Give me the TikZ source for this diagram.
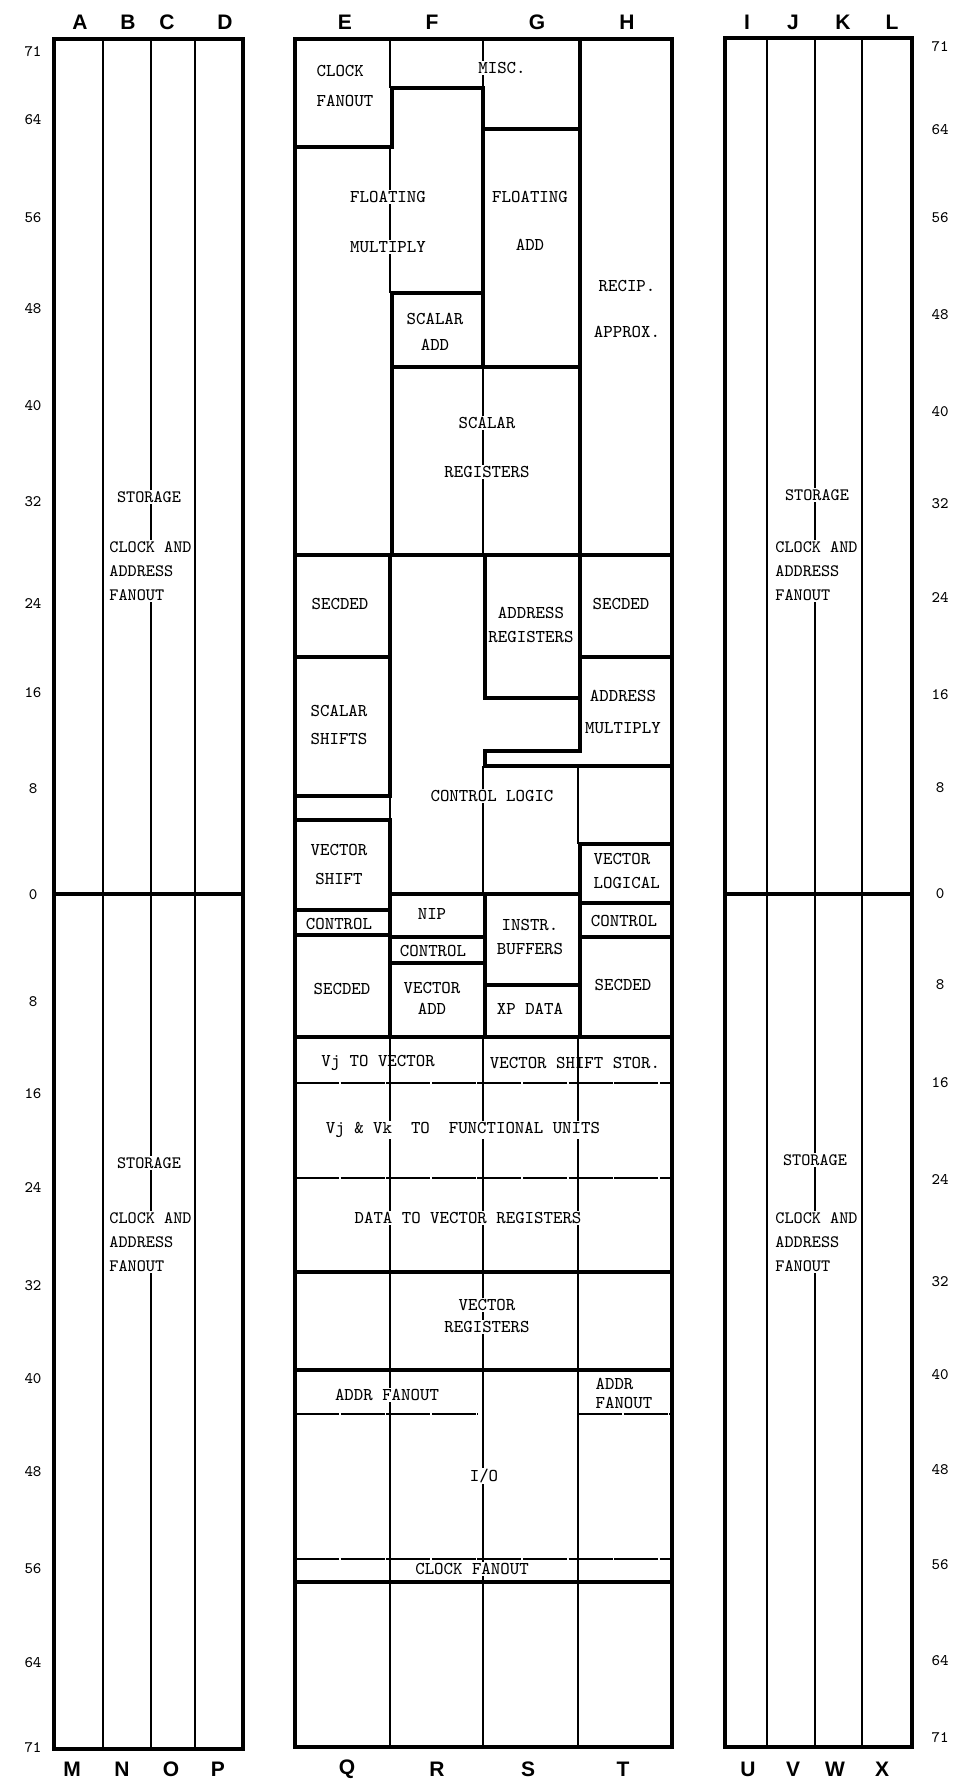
\documentclass[tikz,border=0pt]{standalone}
\usepackage{fontspec}
\newfontfamily\hdrfont{Liberation Sans}
\newcommand\lblfont{\ttfamily\fontsize{9}{12}\selectfont}
\tikzset{
  wall/.style   ={line width=2.3pt, line cap=rect, line join=miter},
  gridln/.style ={line width=0.55pt},
  gridd/.style  ={gridln, dash pattern=on 22pt off 0.8pt},
  lbl/.style    ={font=\lblfont, align=center, fill=white, inner sep=0.6pt},
  lblo/.style   ={lbl, fill=none},
  lblw/.style   ={lbl, align=left, anchor=west},
  stor/.style   ={lbl, font=\ttfamily\fontsize{8.7}{12}\selectfont, inner xsep=0pt},
  storw/.style  ={stor, align=left, anchor=west},
  hdr/.style    ={font=\hdrfont\bfseries\fontsize{10.5}{12}\selectfont, inner sep=0pt},
  rownum/.style ={font=\ttfamily\fontsize{8}{10}\selectfont, inner sep=0pt},
}

\begin{document}
\begin{tikzpicture}[x=0.5pt, y=-0.5pt]
\useasboundingbox (0,0) rectangle (959,1784);

% ---- thin column lines ----
\foreach \x in {103,151,195} \draw[gridln] (\x,39) -- (\x,1749);
\foreach \x in {767,815,862} \draw[gridln] (\x,38) -- (\x,1747);
\draw[gridln] (390,39) -- (390,88);
\draw[gridln] (483,39) -- (483,88);
\draw[gridln] (390,147) -- (390,293);
\draw[gridln] (483,367) -- (483,555);
\draw[gridln] (390,796) -- (390,820);
\draw[gridln] (483,766) -- (483,894);
\draw[gridln] (578,766) -- (578,844);
\foreach \x in {390,483,578} \draw[gridln] (\x,1037) -- (\x,1747);
\draw[gridd] (295,1083) -- (672,1083);
\draw[gridd] (295,1178) -- (672,1178);
\draw[gridd] (295,1414) -- (478,1414);
\draw[gridd] (578,1414) -- (672,1414);
\draw[gridd] (295,1559) -- (672,1559);

% ---- storage labels ----
\node[stor]  (stoA) at (149,497) {STORAGE};
\node[storw] (fanA) at (109,571) {CLOCK AND\\ADDRESS\\FANOUT};
\node[stor]  (stoM) at (149,1163) {STORAGE};
\node[storw] (fanM) at (109,1242) {CLOCK AND\\ADDRESS\\FANOUT};
\node[stor]  (stoI) at (817,495) {STORAGE};
\node[storw] (fanI) at (775,571) {CLOCK AND\\ADDRESS\\FANOUT};
\node[stor]  (stoU) at (815,1160) {STORAGE};
\node[storw] (fanU) at (775,1242) {CLOCK AND\\ADDRESS\\FANOUT};

% ---- cpu labels ----
\node[lblw] (clkfan) at (315,86) {CLOCK\\[3pt]FANOUT};
\node[lbl] (misc)   at (502,68) {MISC.};
\node[lbl] (fmulA)  at (388,197) {FLOATING};
\node[lbl] (fmulB)  at (388,247) {MULTIPLY};
\node[lbl] (fadd)   at (530,221) {FLOATING\\[12pt]ADD};
\node[lbl] (sadd)   at (435,332) {SCALAR\\[1pt]ADD};
\node[lbl] (recip)  at (627,309) {RECIP.\\[11pt]APPROX.};
\node[lbl] (sregA)  at (487,423) {SCALAR};
\node[lbl] (sregB)  at (487,472) {REGISTERS};
\node[lbl] (secE)   at (340,604) {SECDED};
\node[lbl] (areg)   at (531,625) {ADDRESS\\REGISTERS};
\node[lbl] (secH)   at (621,604) {SECDED};
\node[lbl] (sshift) at (339,725) {SCALAR\\[2pt]SHIFTS};
\node[lbl] (amul)   at (623,712) {ADDRESS\\[4pt]MULTIPLY};
\node[lbl] (ctlog)  at (492,796) {CONTROL LOGIC};
\node[lbl] (vshift) at (339,864) {VECTOR\\[2.5pt]SHIFT};
\node[lblw] (vlog)  at (592,871) {VECTOR\\LOGICAL};
\node[lbl] (ctlE)   at (339,924) {CONTROL};
\node[lbl] (nip)    at (432,914) {NIP};
\node[lbl] (ibuf)   at (530,937) {INSTR.\\BUFFERS};
\node[lbl] (ctlH)   at (624,921) {CONTROL};
\node[lbl] (ctlF)   at (433,951) {CONTROL};
\node[lbl] (secQ)   at (342,989) {SECDED};
\node[lbl] (vadd)   at (432,998) {VECTOR\\[-1.5pt]ADD};
\node[lbl] (xpd)    at (530,1009) {XP DATA};
\node[lbl] (secT)   at (623,985) {SECDED};
\node[lblo] (vjvec) at (378,1063) {Vj TO VECTOR};
\node[lblo] (vsst)  at (575,1063) {VECTOR SHIFT STOR.};
\node[lbl] (vjvk)   at (463,1130) {Vj \& Vk\ \ TO\ \ FUNCTIONAL UNITS};
\node[lbl] (dvreg)  at (468,1218) {DATA TO VECTOR REGISTERS};
\node[lbl] (vregA)  at (487,1305) {VECTOR};
\node[lbl] (vregB)  at (487,1327) {REGISTERS};
\node[lbl] (afanQ)  at (387,1395) {ADDR FANOUT};
\node[lblw] (afanT) at (594,1393) {ADDR\\[-2.5pt]FANOUT};
\node[lbl] (io)     at (484,1476) {I/O};
\node[lbl] (clkfanS) at (472,1569) {CLOCK FANOUT};

% ---- panel outlines ----
\draw[wall] (54,39) rectangle (243,1749);
\draw[wall] (54,894) -- (243,894);
\draw[wall] (725,38) rectangle (912,1747);
\draw[wall] (725,894) -- (912,894);
\draw[wall] (295,39) rectangle (672,1747);

% ---- cpu blocks ----
\draw[wall] (295,147) -- (392,147) -- (392,88) -- (483,88) -- (483,367);
\draw[wall] (483,129) -- (580,129);
\draw[wall] (580,39) -- (580,555);
\draw[wall] (392,293) -- (483,293);
\draw[wall] (392,293) -- (392,555);
\draw[wall] (392,367) -- (580,367);
\draw[wall] (295,555) -- (672,555);
\draw[wall] (390,555) -- (390,796) -- (295,796);
\draw[wall] (295,657) -- (390,657);
\draw[wall] (295,820) -- (390,820) -- (390,1037);
\draw[wall] (295,910) -- (390,910);
\draw[wall] (295,935) -- (390,935);
\draw[wall] (485,555) -- (485,698) -- (580,698);
\draw[wall] (580,555) -- (580,751) -- (485,751) -- (485,766) -- (672,766);
\draw[wall] (580,657) -- (672,657);
\draw[wall] (390,894) -- (580,894);
\draw[wall] (485,894) -- (485,1037);
\draw[wall] (390,937) -- (485,937);
\draw[wall] (390,963) -- (485,963);
\draw[wall] (485,985) -- (580,985);
\draw[wall] (580,844) -- (672,844);
\draw[wall] (580,844) -- (580,1037);
\draw[wall] (580,903) -- (672,903);
\draw[wall] (580,937) -- (672,937);
\draw[wall] (295,1037) -- (672,1037);
\draw[wall] (295,1272) -- (672,1272);
\draw[wall] (295,1370) -- (672,1370);
\draw[wall] (295,1582) -- (672,1582);

% ---- column letters and row numbers ----
\foreach \c/\x in {A/80,B/128,C/167,D/225,E/345,F/432,G/537,H/627,I/747,J/793,K/843,L/892}
  \node[hdr] (top\c) at (\x,22) {\c};
\foreach \c/\x in {M/72,N/122,O/171,P/218,Q/347,R/437,S/528,T/623,U/748,V/793,W/835,X/882}
  \node[hdr] (bot\c) at (\x,1769) {\c};
\foreach \n/\y [count=\i] in {71/52,64/120,56/218,48/309,40/406,32/502,24/603,16/693,8/789,0/895,
    8/1002,16/1094,24/1187,32/1286,40/1379,48/1472,56/1569,64/1663,71/1748}
  \node[rownum] (lnum\i) at (33,\y) {\n};
\foreach \n/\y [count=\i] in {71/47,64/130,56/218,48/315,40/412,32/504,24/597,16/695,8/788,0/894,
    8/985,16/1083,24/1179,32/1282,40/1375,48/1470,56/1565,64/1661,71/1738}
  \node[rownum] (rnum\i) at (940,\y) {\n};

\end{tikzpicture}
\end{document}
